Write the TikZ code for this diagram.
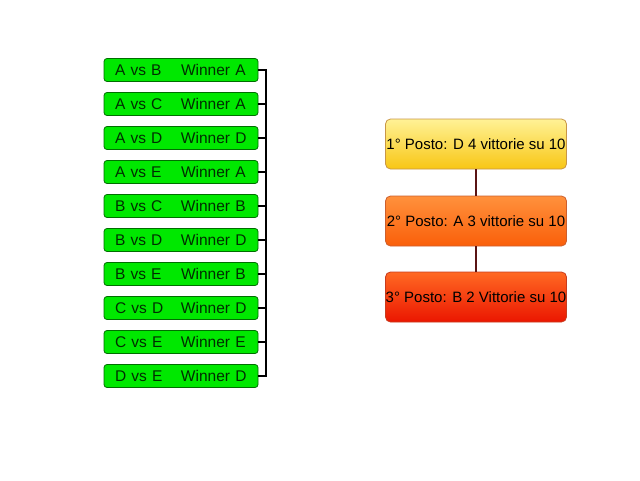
\documentclass[tikz,border=0pt]{standalone}
\usepackage{fontspec}
\setmainfont{Liberation Sans}
\definecolor{gfill}{RGB}{0,232,0}
\definecolor{gdraw}{RGB}{0,110,0}
\definecolor{gtext}{RGB}{0,45,0}
\definecolor{ytop}{RGB}{255,242,150}
\definecolor{ybot}{RGB}{248,198,20}
\definecolor{ydraw}{RGB}{200,150,70}
\definecolor{otop}{RGB}{255,145,60}
\definecolor{obot}{RGB}{250,95,10}
\definecolor{odraw}{RGB}{205,95,45}
\definecolor{rtop}{RGB}{255,105,35}
\definecolor{rbot}{RGB}{235,22,0}
\definecolor{rdraw}{RGB}{200,60,30}
\definecolor{link}{RGB}{90,20,20}
\begin{document}
\begin{tikzpicture}[x=1pt,y=-1pt,
  matchbox/.style={draw=gdraw,fill=gfill,rounded corners=3pt,line width=0.8pt,
    text width=132pt,align=left,inner xsep=11pt,inner ysep=0pt,minimum height=23pt,
    text=gtext,font=\fontsize{15.5}{17}\selectfont},
  rankbox/.style={rounded corners=5pt,line width=0.8pt,minimum width=181pt,
    minimum height=50pt,inner sep=0pt,font=\fontsize{15}{17}\selectfont},
  bracket/.style={line width=1.6pt,black},
  rlink/.style={line width=1.6pt,link}]
\useasboundingbox (0,0) rectangle (640,480);
\foreach \i/\a/\w in {1/A vs B/Winner A,2/A vs C/Winner A,3/A vs D/Winner D,
  4/A vs E/Winner A,5/B vs C/Winner B,6/B vs D/Winner D,7/B vs E/Winner B,
  8/C vs D/Winner D,9/C vs E/Winner E,10/D vs E/Winner D}{
  \pgfmathsetmacro{\yy}{70+34*(\i-1)}
  \node[matchbox] (m\i) at (181,\yy) {\makebox[66pt][l]{\a}\w};
  \coordinate (k\i) at (266,\yy);
  \draw[bracket] (m\i.east) -- (k\i);
}
\draw[bracket] ([yshift=0.8pt]k1) -- ([yshift=-0.8pt]k10);
\node[rankbox,draw=ydraw,top color=ytop,bottom color=ybot] (p1) at (476,144) {1° Posto: D 4 vittorie su 10};
\node[rankbox,draw=odraw,top color=otop,bottom color=obot] (p2) at (476,221) {2° Posto: A 3 vittorie su 10};
\node[rankbox,draw=rdraw,top color=rtop,bottom color=rbot] (p3) at (476,297) {3° Posto: B 2 Vittorie su 10};
\draw[rlink] (p1) -- (p2);
\draw[rlink] (p2) -- (p3);
\end{tikzpicture}
\end{document}
